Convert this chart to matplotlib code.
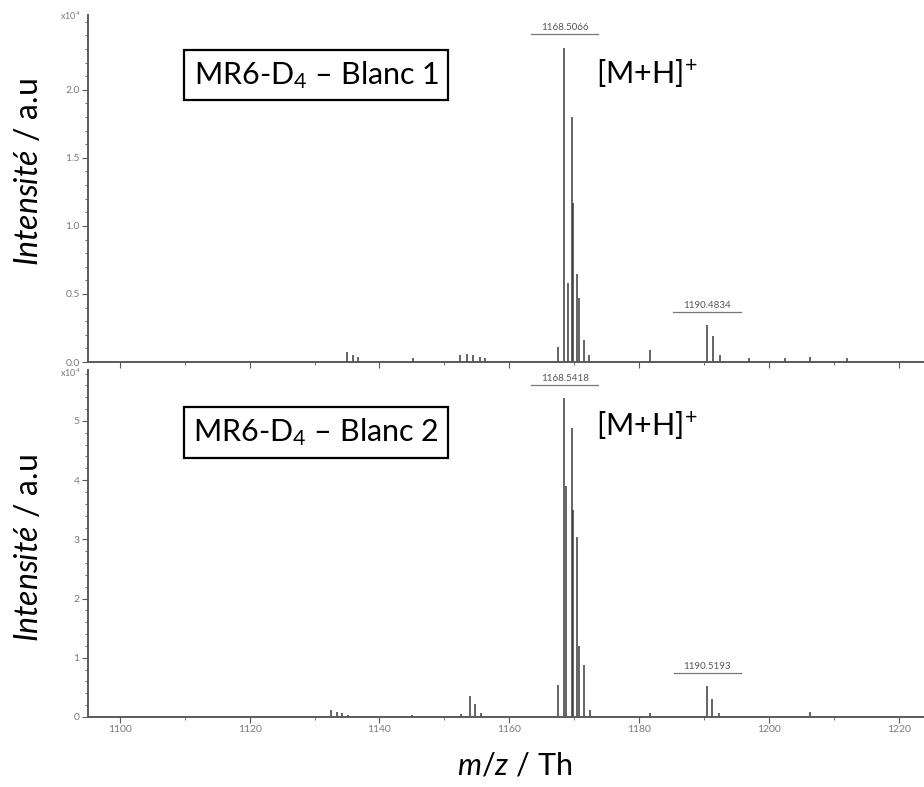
"""
MALDI spectra of MR6-D4 (two blanks), recreated from the figure
"""

import numpy as np
import matplotlib.pyplot as plt
from matplotlib.ticker import MultipleLocator
from matplotlib.lines import Line2D
from matplotlib import transforms

plt.rcParams['font.family'] = ['Lato', 'DejaVu Sans']
plt.rcParams['mathtext.fontset'] = 'custom'
plt.rcParams['mathtext.rm'] = 'Lato'
plt.rcParams['mathtext.it'] = 'Lato:italic'

# -----------------------------
# Data (intensities in units of 1e4)

# Blanc 1
mz_1 = [1135.0, 1135.9, 1136.7, 1145.1, 1152.4, 1153.5, 1154.4, 1155.5, 1156.2,
        1167.5, 1168.5, 1169.0, 1169.6, 1169.8, 1170.4, 1170.7, 1171.5, 1172.3,
        1181.7, 1190.5, 1191.4, 1192.4, 1197.0, 1202.5, 1206.3, 1212.0]
int_1 = [0.07, 0.05, 0.04, 0.03, 0.05, 0.06, 0.05, 0.04, 0.03,
         0.11, 2.31, 0.58, 1.80, 1.17, 0.65, 0.47, 0.16, 0.05,
         0.09, 0.27, 0.19, 0.05, 0.03, 0.03, 0.04, 0.03]

# Blanc 2
mz_2 = [1132.5, 1133.4, 1134.3, 1135.2, 1145.0, 1152.5, 1153.9, 1154.8, 1155.6,
        1167.5, 1168.5, 1168.7, 1169.6, 1169.8, 1170.5, 1170.7, 1171.5, 1172.4,
        1181.7, 1190.5, 1191.3, 1192.3, 1206.3]
int_2 = [0.12, 0.08, 0.06, 0.04, 0.03, 0.05, 0.35, 0.22, 0.06,
         0.54, 5.39, 3.90, 4.88, 3.50, 3.04, 1.20, 0.88, 0.12,
         0.07, 0.52, 0.30, 0.06, 0.08]

labels_1 = [(1168.5066, 2.31, '1168.5066'), (1190.4834, 0.27, '1190.4834')]
labels_2 = [(1168.5418, 5.39, '1168.5418'), (1190.5193, 0.52, '1190.5193')]

x_ticks = [1100, 1120, 1140, 1160, 1180, 1200, 1220]
y_ticks_1 = [0.0, 0.5, 1.0, 1.5, 2.0]
y_ticks_2 = [0, 1, 2, 3, 4, 5]

# -----------------------------

SPEC_COLOR = '#3a3a3a'
AXIS_COLOR = '#5a5a5a'
TICK_COLOR = '#7a7a7a'


def label_peak(ax, fig, mz, h, text):
    """Bruker-like peak label: value over an underline above the peak"""
    ax.annotate(text, xy=(mz, h), xytext=(0, 11), textcoords='offset points',
                ha='center', va='bottom', fontsize=7, color='#555555')
    off = transforms.ScaledTranslation(0, 9.5 / 72, fig.dpi_scale_trans)
    line = Line2D([mz - 5.2, mz + 5.2], [h, h], transform=ax.transData + off,
                  color='#777777', lw=0.9)
    ax.add_line(line)


def style_axis(ax, ymax, yticks, minor, fmt):
    ax.set_xlim(1095.1, 1223.9)
    ax.set_ylim(0, ymax)
    for s in ['top', 'right']:
        ax.spines[s].set_visible(False)
    for s in ['left', 'bottom']:
        ax.spines[s].set_color(AXIS_COLOR)
        ax.spines[s].set_linewidth(1.4)
    ax.yaxis.set_major_locator(plt.FixedLocator(yticks))
    ax.yaxis.set_minor_locator(MultipleLocator(minor))
    ax.yaxis.set_major_formatter(plt.FuncFormatter(lambda v, p: fmt.format(v)))
    ax.xaxis.set_major_locator(plt.FixedLocator(x_ticks))
    ax.xaxis.set_minor_locator(MultipleLocator(10))
    ax.tick_params(which='major', length=4, width=0.8, color=AXIS_COLOR,
                   labelsize=7.5, labelcolor=TICK_COLOR, pad=2)
    ax.tick_params(which='minor', length=2, width=0.6, color=AXIS_COLOR)


fig = plt.figure(figsize=(9.24, 7.87), dpi=100)
ax1 = fig.add_axes([88 / 924, 1 - 362 / 787, 836 / 924, 347 / 787])
ax2 = fig.add_axes([88 / 924, 1 - 717 / 787, 836 / 924, 347 / 787])

ax1.vlines(mz_1, 0, int_1, color=SPEC_COLOR, lw=1.1)
ax2.vlines(mz_2, 0, int_2, color=SPEC_COLOR, lw=1.1)

style_axis(ax1, 2.55, y_ticks_1, 0.1, '{:.1f}')
style_axis(ax2, 5.86, y_ticks_2, 0.2, '{:.0f}')
ax1.tick_params(axis='x', labelbottom=False)

for mz, h, t in labels_1:
    label_peak(ax1, fig, mz, h, t)
for mz, h, t in labels_2:
    label_peak(ax2, fig, mz, h, t)

# multiplier labels
fig.text(70 / 924, 1 - 16 / 787, r'x10$^4$', fontsize=6.5, color=TICK_COLOR,
         ha='center', va='center')
fig.text(70 / 924, 1 - 373 / 787, r'x10$^4$', fontsize=6.5, color=TICK_COLOR,
         ha='center', va='center')

# sample boxes
box = dict(boxstyle='square,pad=0.3', fc='white', ec='black', lw=1.6)
ax1.text(0.273, 0.826, r'MR6-D$_{\mathrm{4}}$ – Blanc 1', transform=ax1.transAxes,
         fontsize=22, ha='center', va='center', bbox=box)
ax2.text(0.273, 0.82, r'MR6-D$_{\mathrm{4}}$ – Blanc 2', transform=ax2.transAxes,
         fontsize=22, ha='center', va='center', bbox=box)

ax1.text(0.668, 0.83, r'[M+H]$^{+}$', transform=ax1.transAxes,
         fontsize=22, ha='center', va='center')
ax2.text(0.668, 0.84, r'[M+H]$^{+}$', transform=ax2.transAxes,
         fontsize=22, ha='center', va='center')

# axis titles
ylab = r'$\mathit{Intensité}$ / a.u'
fig.text(29 / 924, 1 - 172 / 787, ylab, rotation=90, fontsize=23,
         ha='center', va='center')
fig.text(29 / 924, 1 - 548 / 787, ylab, rotation=90, fontsize=23,
         ha='center', va='center')
fig.text(515 / 924, 1 - 765 / 787, r'$\mathit{m/z}$ / Th', fontsize=22,
         ha='center', va='center')

plt.savefig('out.png', dpi=100)
